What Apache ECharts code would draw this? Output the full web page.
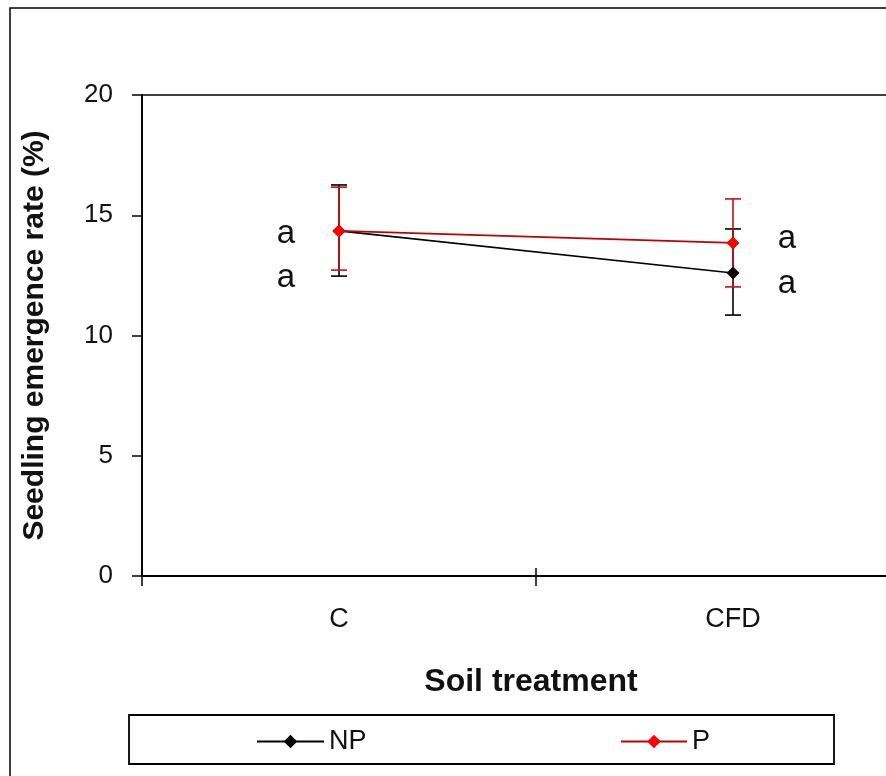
<!DOCTYPE html>
<html>
<head>
<meta charset="utf-8">
<script src="https://cdn.jsdelivr.net/npm/echarts@6/dist/echarts.min.js"></script>
<style>html,body{margin:0;padding:0;background:#fff;}#c{width:886px;height:776px;}</style>
</head>
<body>
<div id="c"></div>
<script>
const categories = ['C', 'CFD'];
const seriesNames = ['NP', 'P'];
const meansNP = [14.35, 12.6];
const lowNP = [12.47, 10.85];
const highNP = [16.26, 14.43];
const meansP = [14.35, 13.85];
const lowP = [12.72, 12.02];
const highP = [16.17, 15.68];
const lettersNP = ['a', 'a'];
const lettersP = ['a', 'a'];
const yTicks = [0, 5, 10, 15, 20];

const FONT = 'Liberation Sans, Arial, sans-serif';
const chart = echarts.init(document.getElementById('c'), null, {renderer: 'canvas'});

function errData(low, high) { return categories.map((c, i) => [i, low[i], high[i]]); }
function errSeries(name, low, high, color) {
  return {
    type: 'custom', name: name + '_err', xAxisIndex: 0, yAxisIndex: 0,
    data: errData(low, high), silent: true, clip: false,
    renderItem: function (params, api) {
      const lo = api.coord([api.value(0), api.value(1)]);
      const hi = api.coord([api.value(0), api.value(2)]);
      const hw = 8;
      const st = {stroke: color, lineWidth: 1.6};
      return {type: 'group', children: [
        {type: 'line', shape: {x1: lo[0], y1: lo[1], x2: hi[0], y2: hi[1]}, style: st},
        {type: 'line', shape: {x1: lo[0] - hw, y1: lo[1], x2: lo[0] + hw, y2: lo[1]}, style: st},
        {type: 'line', shape: {x1: hi[0] - hw, y1: hi[1], x2: hi[0] + hw, y2: hi[1]}, style: st}
      ]};
    }
  };
}
// letter label pixel offsets (layout, not data)
const letterOffsets = {
  NP: [[-53, 47], [54, 11]],
  P: [[-53, 3], [54, -4]]
};
function letterSeries(name, means, letters) {
  return {
    type: 'custom', name: name + '_letters', silent: true, clip: false,
    data: categories.map((c, i) => [i, means[i], letters[i]]),
    renderItem: function (params, api) {
      const i = api.value(0);
      const p = api.coord([i, api.value(1)]);
      const off = letterOffsets[name][i];
      return {type: 'text', x: p[0] + off[0], y: p[1] + off[1],
        style: {text: letters[i], font: '33px ' + FONT, fill: '#111', align: 'center', verticalAlign: 'middle'}};
    }
  };
}

const option = {
  animation: false,
  backgroundColor: '#fff',
  graphic: [
    {type: 'rect', shape: {x: 10, y: 8, width: 1000, height: 1000}, style: {fill: 'none', stroke: '#000', lineWidth: 1.5}, z: 0},
    {type: 'rect', shape: {x: 129, y: 715, width: 705, height: 49}, style: {fill: 'none', stroke: '#000', lineWidth: 1.8}, z: 0}
  ],
  grid: {left: 142, top: 95, width: 788, height: 481, outerBoundsMode: 'none', containLabel: false,
    show: true, borderColor: '#000', borderWidth: 1.5, backgroundColor: 'transparent'},
  xAxis: [{
    type: 'category', data: categories, boundaryGap: true,
    axisLine: {lineStyle: {color: '#000', width: 1.8}},
    axisTick: {show: true, inside: false, length: 10, lineStyle: {color: '#000', width: 1.5}},
    axisLabel: {color: '#111', fontSize: 27, fontFamily: FONT, margin: 30},
    name: 'Soil treatment', nameLocation: 'middle', nameGap: 90,
    nameTextStyle: {color: '#111', fontSize: 32, fontWeight: 'bold', fontFamily: FONT, padding: [0, 10, 0, 0]},
    splitLine: {show: false}
  }, {
    type: 'category', data: categories, boundaryGap: true, position: 'bottom',
    axisLine: {show: false},
    axisTick: {show: true, inside: true, length: 8, lineStyle: {color: '#000', width: 1.5}},
    axisLabel: {show: false}, splitLine: {show: false}
  }],
  yAxis: {
    type: 'value', min: yTicks[0], max: yTicks[yTicks.length - 1], interval: 5,
    axisLine: {show: true, lineStyle: {color: '#000', width: 1.8}},
    axisTick: {show: true, length: 10, lineStyle: {color: '#000', width: 1.5}},
    axisLabel: {color: '#111', fontSize: 26, fontFamily: FONT, margin: 29},
    splitLine: {show: false},
    name: 'Seedling emergence rate (%)', nameLocation: 'middle', nameGap: 92, nameRotate: 90,
    nameTextStyle: {color: '#111', fontSize: 30, fontWeight: 'bold', fontFamily: FONT}
  },
  legend: [{
    data: [seriesNames[0]], left: 256, top: 728, padding: 0, itemWidth: 67, itemHeight: 17,
    textStyle: {color: '#111', fontSize: 27, fontFamily: FONT}
  }, {
    data: [seriesNames[1]], left: 620, top: 728, padding: 0, itemWidth: 66, itemHeight: 17,
    textStyle: {color: '#111', fontSize: 27, fontFamily: FONT}
  }],
  series: [
    errSeries('NP', lowNP, highNP, '#000'),
    {type: 'line', name: 'NP', data: meansNP, symbol: 'diamond', symbolSize: 13,
      itemStyle: {color: '#000'}, lineStyle: {color: '#000', width: 1.6}},
    errSeries('P', lowP, highP, '#c41010'),
    {type: 'line', name: 'P', data: meansP, symbol: 'diamond', symbolSize: 13,
      itemStyle: {color: '#ff0000'}, lineStyle: {color: '#c00000', width: 1.6}},
    letterSeries('NP', meansNP, lettersNP),
    letterSeries('P', meansP, lettersP)
  ]
};
chart.setOption(option);
</script>
</body>
</html>
